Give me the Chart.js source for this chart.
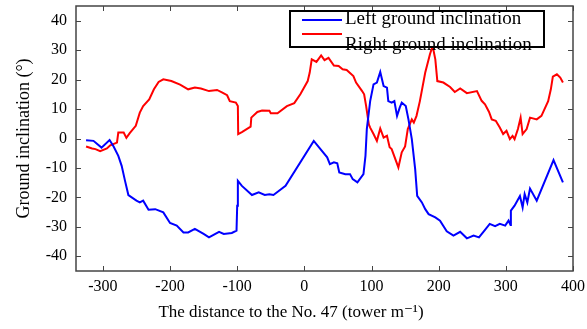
<!DOCTYPE html>
<html>
<head>
<meta charset="utf-8">
<script src="https://cdn.jsdelivr.net/npm/chart.js@4.4.1/dist/chart.umd.min.js"></script>
<style>
  html, body { margin: 0; padding: 0; background: #fff; }
  #wrap { width: 587px; height: 329px; }
</style>
</head>
<body>
<div id="wrap"><canvas id="chart"></canvas></div>
<script>
// tick values
const xTicks = [-300, -200, -100, 0, 100, 200, 300, 400];
const yTicks = [-40, -30, -20, -10, 0, 10, 20, 30, 40];
const xTitle = 'The distance to the No. 47 (tower m\u207B\u00B9)';

// left ground inclination (blue)
const leftDist = [-325, -314, -302, -290, -284, -277, -272, -267, -262, -250, -245, -240, -232, -222, -210,
  -200, -190, -180, -173, -163, -150, -142, -127, -120, -108, -101, -100, -99, -93, -78, -68, -59, -52, -46,
  -28, 14, 24, 34, 38, 44, 49, 52, 61, 68, 72, 79, 88, 91, 93, 98, 103, 108, 113, 118, 123, 125, 130, 134,
  138, 142, 145, 151, 155, 160, 165, 168, 175, 180, 185, 195, 202, 212, 222, 232, 242, 252, 260, 269, 276,
  284, 291, 299, 304, 307, 307.5, 313, 321, 325, 328, 332, 336, 346, 371, 385];
const leftIncl = [-0.6, -0.8, -3.1, -0.5, -2.7, -5.9, -9.3, -14.4, -19.2, -21.1, -21.7, -21.1, -24.2, -24, -25.1,
  -28.7, -29.6, -31.9, -31.9, -30.7, -32.4, -33.6, -31.7, -32.4, -32.1, -31.3, -22.8, -14.4, -16.1, -19.2, -18.3, -19.2, -18.9, -19.2,
  -16.1, -0.8, -3.6, -6.4, -8.7, -8.1, -8.4, -11.5, -12.1, -12.1, -13.8, -14.9, -12.1, -5.9, 3.2, 12.7, 18.4, 19, 22.6, 17.8, 17.3, 12.7, 12.2, 12.7,
  7.7, 10.5, 12.2, 11, 6.5, -0.2, -10.4, -19.5, -21.7, -24, -25.7, -26.8, -27.9, -31.5, -33, -31.7, -33.9, -33, -33.6, -31, -29,
  -29.8, -29, -29.6, -27.9, -29.4, -24.5, -22.8, -19.5, -23.4, -18.9, -21.7, -17, -21.1, -7.3, -14.9];

// right ground inclination (red)
const rightDist = [-325, -316, -311, -304, -294, -289, -279, -277, -269, -265, -260, -251, -245, -240, -231,
  -224, -217, -210, -198, -185, -173, -163, -154, -142, -130, -122, -115, -111, -102, -99, -98.5, -93, -80, -79,
  -70, -63, -52, -50, -40, -26, -15, -6, 5, 8, 11, 18, 25, 30, 36, 44, 51, 57, 63, 73, 77, 86, 89, 92, 96, 98,
  103, 108, 113, 118, 123, 127, 130, 140, 145, 150, 154, 160, 163, 167, 172, 180, 187, 191, 195, 198, 207, 217,
  224, 232, 242, 257, 264, 269, 275, 279, 285, 291, 296, 301, 306, 310, 313, 318, 322, 325, 331, 336, 346, 353,
  363, 367, 370, 376, 381, 385];
const rightIncl = [-2.7, -3.4, -3.6, -4.3, -3.4, -2.3, -1.4, 2, 2, 0.2, 1.8, 4.3, 8.8, 11, 13.3,
  16.7, 19.2, 20.1, 19.5, 18.3, 16.7, 17.3, 17, 16.1, 16.5, 15.6, 14.7, 12.7, 12.2, 11, 1.5, 2.2, 4, 7.1,
  9, 9.5, 9.4, 8.6, 8.6, 11, 12, 15, 19.5, 22.4, 26.9, 26, 28.2, 26.6, 27.4, 24.8, 24.6, 23.5, 23.3, 21.2, 19, 16.1, 15, 11, 4.8, 3.7,
  1.5, -0.8, 3.4, 0.3, 0.9, -3, -3.6, -9.8, -4.7, -2.7, 3.2, 6.5, 5.4, 7.7, 12.7, 22.4, 28.6, 31.4, 26.9, 19.5, 19, 17.5,
  15.8, 17, 15.4, 16.1, 12.8, 11.6, 9, 6.5, 6, 3.7, 1.5, 2.6, -0.2, 0.9, -0.2, 3.2, 7.1, 1.5, 3.2, 7.1, 6.5, 7.7,
  12.7, 16.7, 21, 21.8, 20.7, 19];

const serif = '"Liberation Serif", "DejaVu Serif", serif';

function toPoints(xs, ys) {
    return xs.map((x, i) => ({ x: x, y: ys[i] }));
}

// frame with inward ticks on all four sides, plus the x title (sits left of centre in the original)
const framePlugin = {
    id: 'frame',
    afterDatasetsDraw(chart) {
        const { ctx, chartArea: a, scales } = chart;
        ctx.save();
        ctx.strokeStyle = '#444';
        ctx.lineWidth = 1.5;
        ctx.strokeRect(a.left, a.top, a.right - a.left, a.bottom - a.top);
        ctx.lineWidth = 1;
        ctx.beginPath();
        xTicks.forEach(v => {
            const px = Math.round(scales.x.getPixelForValue(v)) + 0.5;
            ctx.moveTo(px, a.bottom); ctx.lineTo(px, a.bottom - 5);
            ctx.moveTo(px, a.top); ctx.lineTo(px, a.top + 5);
        });
        yTicks.forEach(v => {
            const py = Math.round(scales.y.getPixelForValue(v)) + 0.5;
            ctx.moveTo(a.left, py); ctx.lineTo(a.left + 5, py);
            ctx.moveTo(a.right, py); ctx.lineTo(a.right - 5, py);
        });
        ctx.stroke();

        ctx.fillStyle = '#000';
        ctx.font = '17px ' + serif;
        ctx.textAlign = 'center';
        ctx.textBaseline = 'middle';
        ctx.fillText(xTitle, 291, 313);
        ctx.restore();
    }
};

// boxed legend in the top right corner
const legendPlugin = {
    id: 'boxLegend',
    afterDraw(chart) {
        const { ctx } = chart;
        const sets = chart.data.datasets;
        ctx.save();
        ctx.fillStyle = '#fff';
        ctx.fillRect(290, 11, 254, 36);
        ctx.strokeStyle = '#000';
        ctx.lineWidth = 2;
        ctx.strokeRect(290, 11, 254, 36);
        ctx.font = '19px ' + serif;
        ctx.textBaseline = 'middle';
        const rows = [20, 34];
        const textRows = [19, 45];
        sets.forEach((ds, i) => {
            ctx.strokeStyle = ds.borderColor;
            ctx.lineWidth = 2;
            ctx.beginPath();
            ctx.moveTo(302, rows[i]);
            ctx.lineTo(342, rows[i]);
            ctx.stroke();
            ctx.fillStyle = '#000';
            ctx.fillText(ds.label, 345, textRows[i]);
        });
        ctx.restore();
    }
};

new Chart(document.getElementById('chart'), {
    type: 'line',
    data: {
        datasets: [{
            label: 'Left ground inclination',
            data: toPoints(leftDist, leftIncl),
            borderColor: '#0000ff',
            borderWidth: 2,
            pointRadius: 0,
            tension: 0
        }, {
            label: 'Right ground inclination',
            data: toPoints(rightDist, rightIncl),
            borderColor: '#ff0000',
            borderWidth: 2,
            pointRadius: 0,
            tension: 0
        }]
    },
    options: {
        responsive: true,
        maintainAspectRatio: false,
        animation: false,
        devicePixelRatio: 1,
        layout: { padding: { top: 6, right: 14, left: 0, bottom: 0 } },
        plugins: {
            legend: { display: false },
            tooltip: { enabled: false }
        },
        scales: {
            x: {
                type: 'linear',
                min: -340,
                max: 400,
                afterBuildTicks: s => { s.ticks = xTicks.map(v => ({ value: v })); },
                afterFit: s => { s.height = 58; s.paddingLeft = 0; s.paddingRight = 0; },
                grid: { display: false, drawTicks: false },
                border: { display: false },
                ticks: { color: '#000', padding: 6, maxRotation: 0, autoSkip: false, font: { family: serif, size: 16 } }
            },
            y: {
                min: -45,
                max: 45,
                afterBuildTicks: s => { s.ticks = yTicks.map(v => ({ value: v })); },
                afterFit: s => { s.width = 76; s.paddingTop = 0; s.paddingBottom = 0; },
                grid: { display: false, drawTicks: false },
                border: { display: false },
                ticks: { color: '#000', padding: 9, font: { family: serif, size: 16 } },
                title: {
                    display: true,
                    text: 'Ground inclination (\u00B0)',
                    color: '#000',
                    font: { family: serif, size: 18 },
                    padding: { top: 13, bottom: 0 }
                }
            }
        }
    },
    plugins: [framePlugin, legendPlugin]
});
</script>
</body>
</html>
